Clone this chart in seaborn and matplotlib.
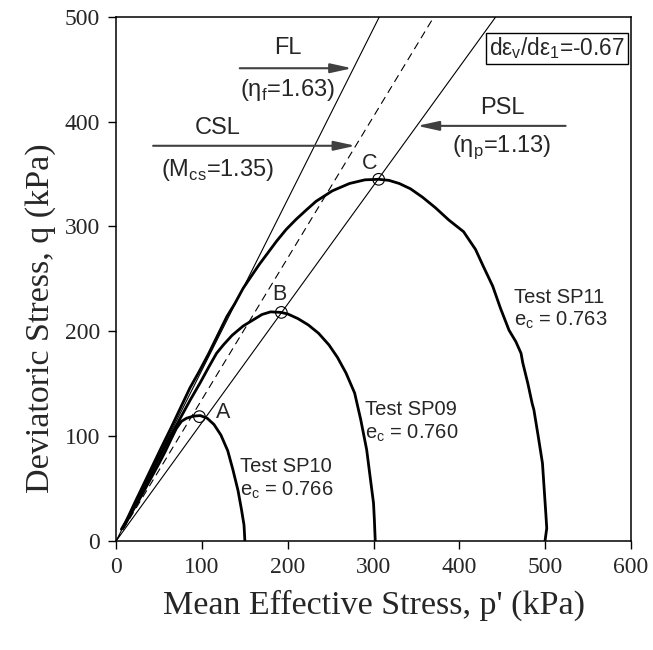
import matplotlib
matplotlib.use("Agg")
import matplotlib.pyplot as plt
import seaborn as sns
import pandas as pd

# ---------------- data ----------------
sp10_p = [150, 149, 146, 142, 136, 130, 122, 114, 106, 98, 90, 82, 76, 70, 64, 57, 50, 42, 34, 26, 18, 12, 8]
sp10_q = [0, 15, 30, 48, 68, 86, 101, 111, 117, 119.5, 119, 117, 114, 107, 97, 85, 74, 62, 50, 38, 27, 18, 13]

sp09_p = [302, 301, 300, 297, 292, 285, 278, 268, 258, 248, 236, 224, 212, 200, 192, 180, 170, 160, 148, 135,
          125, 117, 108, 98, 86, 74, 62, 50, 40, 30, 20, 12, 6]
sp09_q = [0, 20, 36, 55, 87, 116, 141, 160, 175, 187, 198, 206, 212, 216.5, 218, 218.5, 216, 211, 205, 196,
          187, 179, 166, 151, 134, 116, 98, 79, 63, 47, 32, 19, 11]

sp11_p = [500, 502, 501, 497, 492, 487, 485, 480, 474, 472, 466, 458, 448, 439, 428, 419, 405, 388, 372, 357,
          343, 330, 318, 306, 290, 272, 252, 233, 222, 210, 198, 187, 177, 167, 157, 148, 138, 129, 120, 108, 97,
          86, 75, 64, 52, 42, 32, 22, 14, 8]
sp11_q = [0, 12, 25, 74, 100, 125, 131, 150, 170, 179, 190, 201, 222, 243, 262, 278, 295, 306, 318, 328,
          336, 341, 344, 345, 344.5, 341, 334, 324, 316, 307, 297, 286, 275, 264, 252, 241, 226, 214, 199, 179, 162,
          146, 127, 108, 88, 71, 54, 37, 23, 13]

peak_labels = ["A", "B", "C"]
peak_p = [97, 192.5, 306]
peak_q = [118.5, 218, 345]

slope_fl = 1.63
slope_csl = 1.35
slope_psl = 1.13
q_top = 500

x_ticks = [0, 100, 200, 300, 400, 500, 600]
y_ticks = [0, 100, 200, 300, 400, 500]

test_names = ["Test SP10", "Test SP09", "Test SP11"]
test_ec = ["0.766", "0.760", "0.763"]

# ---------------- style ----------------
sns.set_theme(style="white")
plt.rcParams["font.family"] = ["Liberation Sans", "DejaVu Sans"]

fig = plt.figure(figsize=(6.53, 6.50), dpi=100)
ax = fig.add_axes([0.178, 0.168, 0.788, 0.806])

# straight lines through origin
for s, dashed in [(slope_fl, False), (slope_csl, True), (slope_psl, False)]:
    df = pd.DataFrame({"p": [0, q_top / s], "q": [0, q_top]})
    ln = sns.lineplot(data=df, x="p", y="q", ax=ax, color="black", lw=0.8,
                      sort=False, estimator=None).lines[-1]
    if dashed:
        ln.set_dashes((7, 4.5))

# stress paths
for pp, qq in [(sp10_p, sp10_q), (sp09_p, sp09_q), (sp11_p, sp11_q)]:
    df = pd.DataFrame({"p": pp, "q": qq})
    sns.lineplot(data=df, x="p", y="q", ax=ax, color="black", lw=2.0, sort=False, estimator=None)

# peak markers
sns.scatterplot(x=peak_p, y=peak_q, ax=ax, s=70, marker="o", facecolor="none",
                edgecolor="black", linewidth=0.8, zorder=5)

lbl_off = [(125, 122), (190, 235), (296, 360)]
for lab, (x, y) in zip(peak_labels, lbl_off):
    ax.text(x, y, lab, fontsize=15.5, ha="center", va="center")

# test labels
test_pos = [(144, 71, 48), (290, 125, 103), (464, 232, 210)]
for name, ec, (x, y1, y2) in zip(test_names, test_ec, test_pos):
    ax.text(x, y1, name, fontsize=14.5, ha="left", va="center")
    ax.text(x, y2, r"e$_\mathregular{c}$ = " + ec, fontsize=14.5, ha="left", va="center")

# line annotations
arrow_kw = dict(arrowstyle="-|>,head_length=1.0,head_width=0.22", color="#404040",
                lw=1.5, mutation_scale=13, shrinkA=0, shrinkB=0)
ax.text(200, 470, "FL", fontsize=17, ha="center", va="center")
ax.annotate("", xy=(275, 451), xytext=(144, 451), arrowprops=arrow_kw)
ax.text(200, 430, r"(η$_\mathregular{f}$=1.63)", fontsize=17, ha="center", va="center")

ax.text(118, 394, "CSL", fontsize=17, ha="center", va="center")
ax.annotate("", xy=(279, 377), xytext=(43, 377), arrowprops=arrow_kw)
ax.text(118, 354, r"(M$_\mathregular{cs}$=1.35)", fontsize=17, ha="center", va="center")

ax.text(450, 413, "PSL", fontsize=17, ha="center", va="center")
ax.annotate("", xy=(351, 396), xytext=(524, 396), arrowprops=arrow_kw)
ax.text(450, 376, r"(η$_\mathregular{p}$=1.13)", fontsize=17, ha="center", va="center")

ax.text(514, 470, r"dε$_\mathregular{v}$/dε$_\mathregular{1}$=-0.67", fontsize=16.3, ha="center", va="center",
        bbox=dict(boxstyle="square,pad=0.12", fc="white", ec="black", lw=1.0))

# axes
ax.set_xlim(0, 600)
ax.set_ylim(0, 500)
ax.set_xticks(x_ticks)
ax.set_yticks(y_ticks)
serif = ["Liberation Serif", "DejaVu Serif"]
ax.set_xticklabels([str(t) for t in x_ticks], family=serif, fontsize=17)
ax.set_yticklabels([str(t) for t in y_ticks], family=serif, fontsize=17)
ax.tick_params(direction="out", length=5.5, width=1.0, color="black", pad=6, bottom=True, left=True)
ax.set_xlabel("Mean Effective Stress, p' (kPa)", family=serif, fontsize=24.5)
ax.set_ylabel("Deviatoric Stress, q (kPa)", family=serif, fontsize=24.5)
ax.xaxis.set_label_coords(0.5, -0.094)
ax.yaxis.set_label_coords(-0.118, 0.424)
for sp in ax.spines.values():
    sp.set_visible(True)
    sp.set_color("black")
    sp.set_linewidth(1.1)

fig.savefig("out.png", dpi=100)
